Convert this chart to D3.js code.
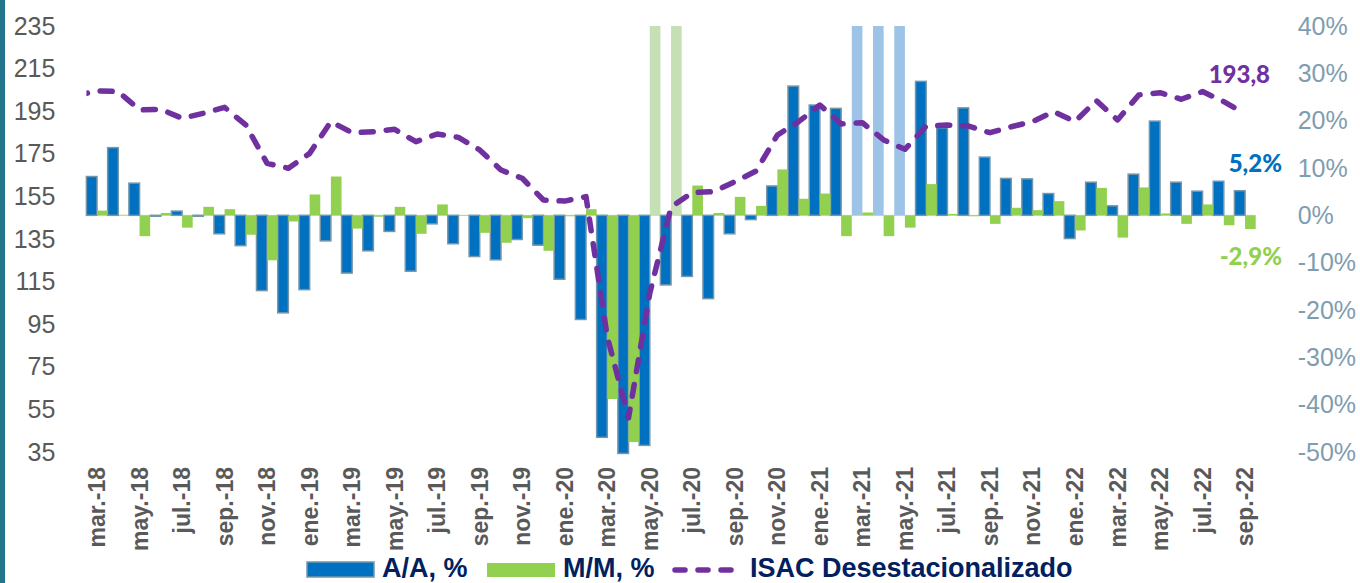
<!DOCTYPE html>
<html>
<head>
<meta charset="utf-8">
<script src="https://cdn.jsdelivr.net/npm/d3@7"></script>
<style>
  body { margin: 0; background: #fff; }
  svg { display: block; font-family: "Liberation Sans", Arial, sans-serif; }
</style>
</head>
<body>
<svg id="chart" width="1360" height="583"></svg>
<script>
// months shown on the category axis (every second one gets a label)
const months = [
  'mar.-18','abr.-18','may.-18','jun.-18','jul.-18','ago.-18','sep.-18','oct.-18','nov.-18','dic.-18',
  'ene.-19','feb.-19','mar.-19','abr.-19','may.-19','jun.-19','jul.-19','ago.-19','sep.-19','oct.-19','nov.-19','dic.-19',
  'ene.-20','feb.-20','mar.-20','abr.-20','may.-20','jun.-20','jul.-20','ago.-20','sep.-20','oct.-20','nov.-20','dic.-20',
  'ene.-21','feb.-21','mar.-21','abr.-21','may.-21','jun.-21','jul.-21','ago.-21','sep.-21','oct.-21','nov.-21','dic.-21',
  'ene.-22','feb.-22','mar.-22','abr.-22','may.-22','jun.-22','jul.-22','ago.-22','sep.-22'
];
const tickLabels = months.filter((d, i) => i % 2 === 0);

// A/A, % (year over year) - values above 40 are drawn faded, cut at the axis top
const aa = [8.2, 14.3, 6.8, -0.2, 0.9, -0.2, -3.9, -6.4, -15.9, -20.6,
  -15.7, -5.4, -12.2, -7.5, -3.4, -11.8, -1.8, -6.0, -8.7, -9.4, -5.1, -6.3,
  -13.5, -22.0, -46.9, -50.3, -48.6, -14.7, -12.9, -17.6, -3.9, -0.9, 6.2, 27.3,
  23.3, 22.6, 113, 252, 62, 28.3, 18.5, 22.7, 12.3, 7.8, 7.7, 4.6,
  -4.9, 7.0, 2.0, 8.7, 19.9, 7.0, 5.1, 7.2, 5.2];

// M/M, % (month over month)
const mm = [1.0, 0.1, -4.4, 0.5, -2.6, 1.8, 1.3, -4.1, -9.5, -1.3,
  4.4, 8.2, -2.8, -0.3, 1.8, -3.9, 2.3, -0.1, -3.7, -5.8, -0.6, -7.5,
  -0.2, 1.3, -38.8, -47.9, 110, 42, 6.3, 0.5, 3.9, 2.0, 9.7, 3.5,
  4.6, -4.4, 0.6, -4.4, -2.6, 6.6, 0.3, -0.2, -1.8, 1.6, 1.1, 3.0,
  -3.2, 5.8, -4.7, 5.9, 0.4, -1.8, 2.3, -2.1, -2.9];

// ISAC desestacionalizado (index, left axis)
const isacFeb18 = 202.2;
const isac = [204.6, 204.2, 195.6, 195.9, 191.7, 194.0, 196.8, 188.5, 170.5, 168.2,
  175.2, 190.1, 184.9, 185.4, 186.5, 180.7, 184.3, 182.7, 176.8, 167.4, 163.5, 153.3,
  152.8, 154.9, 89.1, 51.0, 109.5, 150.0, 156.8, 157.2, 161.9, 166.9, 183.8, 190.1,
  197.9, 189.0, 189.6, 181.5, 177.1, 188.0, 188.5, 188.0, 184.9, 187.7, 190.1, 194.8,
  190.1, 200.0, 190.9, 202.6, 203.7, 200.6, 204.2, 199.5, 193.8];

const leftTicks = [35, 55, 75, 95, 115, 135, 155, 175, 195, 215, 235];
const rightTicks = [-50, -40, -30, -20, -10, 0, 10, 20, 30, 40];

const BLUE = '#0070c0', BLUE_LIGHT = '#9dc3e6', BLUE_EDGE = '#7596aa';
const GREEN = '#92d050', GREEN_LIGHT = '#c5e0b4';
const PURPLE = '#7030a0', NAVY = '#002060';

const svg = d3.select('#chart');
const plotL = 86.4, plotR = 1255.7, plotT = 26, plotB = 452;

// left edge strip from the slide background
svg.append('rect').attr('x', 0).attr('y', 0).attr('width', 5).attr('height', 583).attr('fill', '#23758c');

const x = d3.scaleBand().domain(months).range([plotL, plotR]).padding(0);
const yL = d3.scaleLinear().domain([35, 235]).range([plotB, plotT]);
const yR = d3.scaleLinear().domain([-50, 40]).range([plotB, plotT]);
const bw = x.bandwidth();

// axes
const axL = svg.append('g').attr('transform', `translate(${plotL},0)`)
  .call(d3.axisLeft(yL).tickValues(leftTicks).tickSize(0).tickPadding(31));
axL.select('.domain').remove();
axL.selectAll('text').attr('font-size', 25).attr('fill', '#595959').attr('font-family', '"Liberation Sans", Arial, sans-serif');

const axR = svg.append('g').attr('transform', `translate(${plotR},0)`)
  .call(d3.axisRight(yR).tickValues(rightTicks).tickSize(0).tickPadding(42).tickFormat(d => d + '%'));
axR.select('.domain').remove();
axR.selectAll('text').attr('font-size', 25).attr('fill', '#7f9db0').attr('font-family', '"Liberation Sans", Arial, sans-serif');

const axB = svg.append('g').attr('transform', `translate(0,${plotB})`)
  .call(d3.axisBottom(x).tickValues(tickLabels).tickSize(0));
axB.select('.domain').remove();
axB.selectAll('text')
  .attr('y', 0).attr('dy', null)
  .attr('transform', 'translate(0,15) rotate(-90)')
  .attr('text-anchor', 'end')
  .attr('dominant-baseline', 'central')
  .attr('font-size', 23).attr('font-weight', 'bold').attr('fill', '#595959')
  .attr('font-family', '"Liberation Sans", Arial, sans-serif');

// zero line
svg.append('line').attr('x1', plotL).attr('x2', plotR)
  .attr('y1', yR(0)).attr('y2', yR(0)).attr('stroke', GREEN_LIGHT).attr('stroke-width', 1);

// bars
const barData = months.map((m, i) => ({ m, aa: aa[i], mm: mm[i] }));
const g = svg.append('g');

g.selectAll('.aa').data(barData).join('rect')
  .attr('class', 'aa')
  .attr('x', d => x(d.m))
  .attr('width', bw / 2)
  .attr('y', d => yR(Math.min(Math.max(d.aa, 0), 40)))
  .attr('height', d => Math.abs(yR(Math.min(d.aa, 40)) - yR(0)))
  .attr('fill', d => d.aa > 40 ? BLUE_LIGHT : BLUE)
  .attr('stroke', d => d.aa > 40 ? 'none' : BLUE_EDGE)
  .attr('stroke-width', 1.5);

g.selectAll('.mm').data(barData).join('rect')
  .attr('class', 'mm')
  .attr('x', d => x(d.m) + bw / 2)
  .attr('width', bw / 2)
  .attr('y', d => yR(Math.min(Math.max(d.mm, 0), 40)))
  .attr('height', d => Math.abs(yR(Math.min(d.mm, 40)) - yR(0)))
  .attr('fill', d => d.mm > 40 ? GREEN_LIGHT : GREEN);

// ISAC line (clipped at the plot edge, it comes in from feb-18)
svg.append('clipPath').attr('id', 'plotclip')
  .append('rect').attr('x', plotL).attr('y', 0).attr('width', plotR - plotL).attr('height', 583);

const linePts = [{ cx: x(months[0]) - bw / 2, v: isacFeb18 }]
  .concat(months.map((m, i) => ({ cx: x(m) + bw / 2, v: isac[i] })));

const line = d3.line().x(d => d.cx).y(d => yL(d.v));
svg.append('path')
  .datum(linePts)
  .attr('clip-path', 'url(#plotclip)')
  .attr('d', line)
  .attr('fill', 'none')
  .attr('stroke', PURPLE)
  .attr('stroke-width', 5.5)
  .attr('stroke-linecap', 'round')
  .attr('stroke-linejoin', 'round')
  .attr('stroke-dasharray', '12,13');

// last value labels
const labels = [
  { text: '193,8', x: 1270, y: 83, color: PURPLE },
  { text: '5,2%', x: 1282, y: 172, color: BLUE },
  { text: '-2,9%', x: 1282, y: 265, color: GREEN }
];
svg.selectAll('.lbl').data(labels).join('text')
  .attr('class', 'lbl')
  .attr('x', d => d.x).attr('y', d => d.y)
  .attr('text-anchor', 'end')
  .attr('font-family', 'Lato, "Open Sans", sans-serif')
  .attr('font-weight', 900).attr('font-size', 24)
  .attr('fill', d => d.color)
  .text(d => d.text);

// legend
const leg = svg.append('g').attr('font-size', 27).attr('font-weight', 'bold').attr('fill', NAVY);
leg.append('rect').attr('x', 307).attr('y', 562).attr('width', 67).attr('height', 15)
  .attr('fill', BLUE).attr('stroke', BLUE_EDGE).attr('stroke-width', 1.5);
leg.append('text').attr('x', 382).attr('y', 577).text('A/A, %');
leg.append('rect').attr('x', 487).attr('y', 563).attr('width', 68).attr('height', 14).attr('fill', GREEN);
leg.append('text').attr('x', 563).attr('y', 577).text('M/M, %');
leg.append('line').attr('x1', 675).attr('x2', 735).attr('y1', 570).attr('y2', 570)
  .attr('stroke', PURPLE).attr('stroke-width', 5.5).attr('stroke-linecap', 'round')
  .attr('stroke-dasharray', '10,13');
leg.append('text').attr('x', 750).attr('y', 577).text('ISAC Desestacionalizado');
</script>
</body>
</html>
